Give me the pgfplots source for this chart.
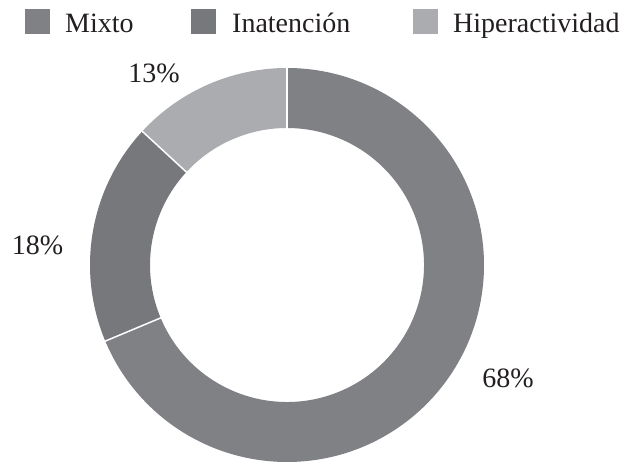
\documentclass[border=0pt]{standalone}
\usepackage{pgfplots}
\pgfplotsset{compat=1.18}
\usepackage{pgfplotstable}
\usepackage{fontspec}
\setmainfont{Liberation Serif}
\definecolor{cMixto}{HTML}{808185}
\definecolor{cInat}{HTML}{77787B}
\definecolor{cHiper}{HTML}{ABACAF}
\definecolor{ctext}{HTML}{231F20}
\pgfplotstableread{
label value
Mixto 68
Inatención 18
Hiperactividad 13
}\datatable
\newcommand{\sector}[3]{%
  \fill[#1] ([shift={(#2:197)}]axis cs:287,197) arc[start angle=#2, end angle=#3, radius=197]
    -- ([shift={(#3:137)}]axis cs:287,197) arc[start angle=#3, end angle=#2, radius=137] -- cycle;}
\newcommand{\sep}[1]{%
  \draw[white, line width=1.5pt] ([shift={(#1:136)}]axis cs:287,197) -- ([shift={(#1:198)}]axis cs:287,197);}
\begin{document}%
\begin{tikzpicture}
\pgfplotstablegetelem{0}{value}\of\datatable \let\va\pgfplotsretval
\pgfplotstablegetelem{1}{value}\of\datatable \let\vb\pgfplotsretval
\pgfplotstablegetelem{2}{value}\of\datatable \let\vc\pgfplotsretval
\pgfmathsetmacro{\tot}{\va+\vb+\vc}
\pgfmathsetmacro{\aA}{90-(360/\tot)*\va}
\pgfmathsetmacro{\aB}{\aA-(360/\tot)*\vb}
\pgfmathsetmacro{\aC}{\aB-(360/\tot)*\vc}
\begin{axis}[
  width=625pt, height=462pt, scale only axis,
  xmin=0, xmax=625, ymin=0, ymax=462,
  hide axis, clip=false,
]
\path (axis cs:0,0) rectangle (axis cs:625,462);
\sector{cMixto}{90}{\aA}
\sector{cInat}{\aA}{\aB}
\sector{cHiper}{\aB}{\aC}
\sep{90}
\sep{\aA}
\sep{\aB}
% percentage labels
\node[anchor=base, inner sep=0, text=ctext, font=\fontsize{28}{30}\selectfont] at (axis cs:508,74) {\va\%};
\node[anchor=base, inner sep=0, text=ctext, font=\fontsize{28}{30}\selectfont] at (axis cs:37.5,207) {\vb\%};
\node[anchor=base, inner sep=0, text=ctext, font=\fontsize{28}{30}\selectfont] at (axis cs:154,379) {\vc\%};
% legend
\fill[cMixto] (axis cs:25,428) rectangle (axis cs:50,453);
\fill[cInat] (axis cs:191,428) rectangle (axis cs:216,453);
\fill[cHiper] (axis cs:413,428) rectangle (axis cs:438,453);
\node[anchor=base west, inner sep=0, text=ctext, font=\fontsize{28}{30}\selectfont] at (axis cs:65,429) {Mixto};
\node[anchor=base west, inner sep=0, text=ctext, font=\fontsize{28}{30}\selectfont] at (axis cs:232,429) {Inatención};
\node[anchor=base west, inner sep=0, text=ctext, font=\fontsize{28}{30}\selectfont] at (axis cs:453,429) {Hiperactividad};
\end{axis}
\end{tikzpicture}%
\end{document}
